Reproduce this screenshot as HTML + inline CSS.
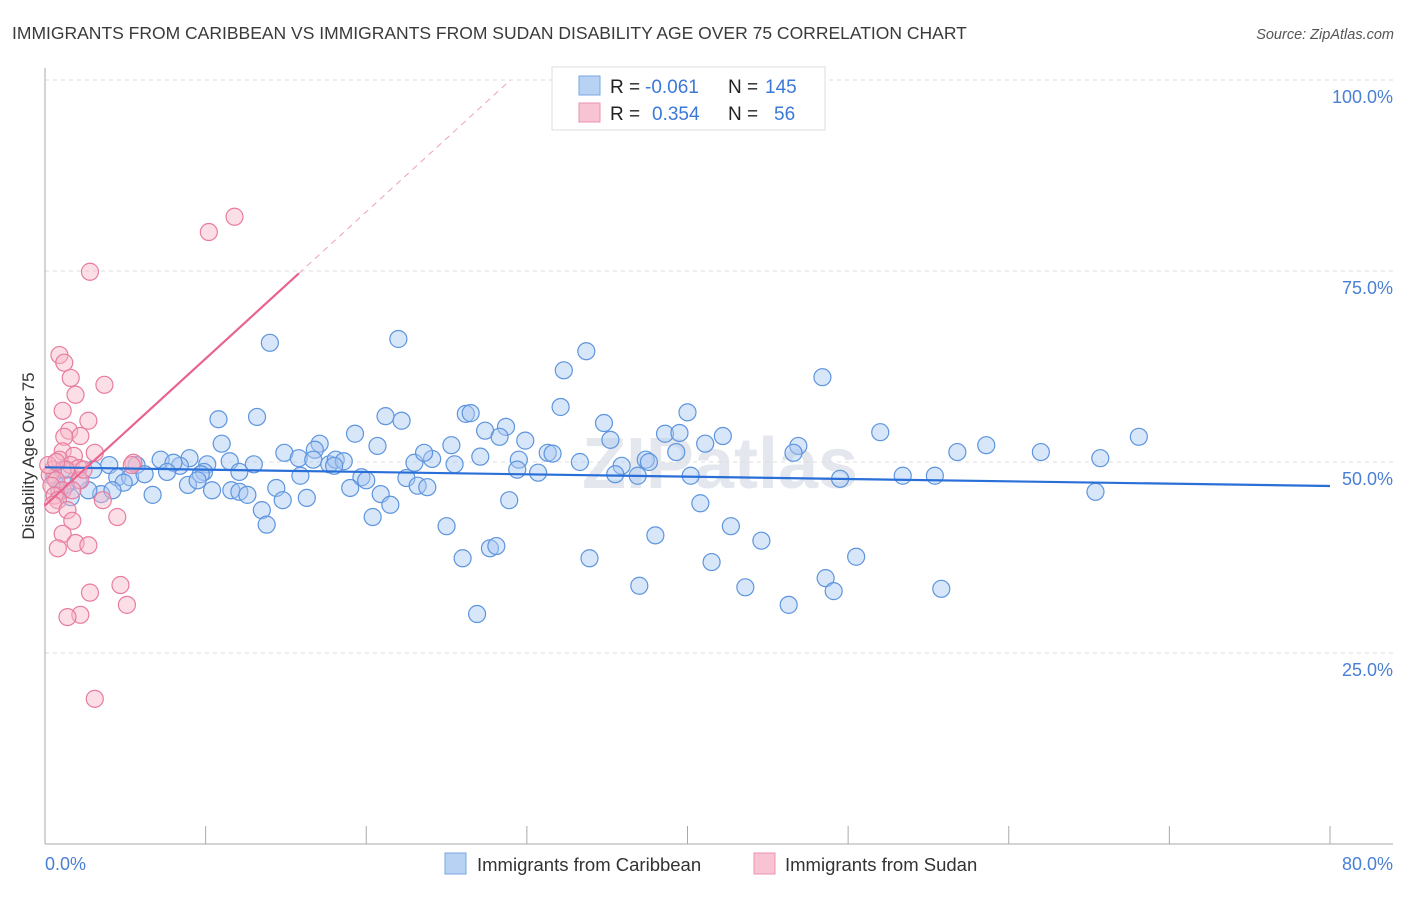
<!DOCTYPE html>
<html><head><meta charset="utf-8">
<style>
body{margin:0;background:#fff;font-family:"Liberation Sans",sans-serif;}
svg text{font-family:"Liberation Sans",sans-serif;}
</style></head>
<body>
<svg id="chart" width="1406" height="892" viewBox="0 0 1406 892"></svg>
<script>
const blueX=[14.0,22.0,33.7,32.3,48.4,10.8,13.2,21.2,22.2,26.2,26.5,32.1,34.8,40.0,28.7,27.4,19.3,28.3,29.9,35.2,38.6,39.5,42.2,41.1,52.0,58.6,68.1,62.0,56.8,65.7,46.9,46.6,11.0,17.1,16.8,14.9,15.8,20.7,25.3,27.1,31.3,31.6,29.5,24.1,23.0,25.5,23.6,37.4,37.6,35.9,33.3,39.3,29.4,30.7,35.5,36.9,40.2,49.5,53.4,55.4,65.4,7.2,9.0,8.4,8.0,10.1,11.5,13.0,5.7,4.0,3.0,4.5,5.3,6.2,7.6,4.9,9.9,9.7,12.1,8.9,10.4,9.5,11.6,12.1,12.6,14.4,15.9,16.7,17.7,18.1,18.6,18.0,19.7,20.0,19.0,20.9,21.5,20.4,14.8,16.3,13.5,13.8,22.5,23.2,23.8,28.9,25.0,26.0,27.7,28.1,26.9,33.9,37.0,38.0,40.8,42.7,41.5,43.6,44.6,46.3,48.6,49.1,50.5,55.8,6.7,3.5,2.7,1.6,0.9,4.2,2.1,1.3,0.6,1.1];
const blueY=[65.6,66.1,64.5,62.0,61.1,55.6,55.9,56.0,55.4,56.3,56.4,57.2,55.1,56.5,54.6,54.1,53.7,53.3,52.8,52.9,53.7,53.8,53.4,52.4,53.9,52.2,53.3,51.3,51.3,50.5,52.1,51.2,52.4,52.4,51.6,51.2,50.5,52.1,52.2,50.7,51.2,51.1,50.3,50.4,49.9,49.7,51.2,50.3,50.0,49.5,50.0,51.3,49.0,48.6,48.4,48.2,48.2,47.8,48.2,48.2,46.1,50.3,50.5,49.5,49.9,49.7,50.1,49.7,49.6,49.6,49.0,48.0,48.0,48.4,48.7,47.3,48.7,48.4,48.7,47.0,46.3,47.6,46.3,46.1,45.7,46.6,48.2,50.3,49.7,50.3,50.1,49.5,48.0,47.6,46.6,45.8,44.4,42.8,45.0,45.3,43.7,41.8,47.9,46.9,46.7,45.0,41.6,37.4,38.7,39.0,30.1,37.4,33.8,40.4,44.6,41.6,36.9,33.6,39.7,31.3,34.8,33.1,37.6,33.4,45.7,45.8,46.3,45.4,46.3,46.3,47.6,47.0,47.9,49.0];
const pinkX=[11.8,10.2,2.8,0.9,1.2,1.6,3.7,1.9,1.1,2.7,1.5,2.2,1.2,3.1,1.1,1.8,5.5,5.4,0.9,1.6,2.1,1.3,0.5,0.3,0.7,0.4,1.1,0.6,2.2,0.2,0.8,3.6,0.5,1.4,1.7,4.5,1.1,1.9,2.7,0.8,4.7,2.8,5.1,2.2,1.4,3.1,1.7,2.4,0.7];
const pinkY=[82.1,80.1,74.9,64.0,63.0,61.0,60.1,58.8,56.7,55.4,54.1,53.4,53.3,51.2,51.4,50.8,49.9,49.6,50.3,49.6,49.2,49.0,49.0,48.3,47.6,46.9,46.3,45.6,47.6,49.6,45.0,45.0,44.4,43.7,42.3,42.8,40.6,39.4,39.1,38.7,33.9,32.9,31.3,30.0,29.7,19.0,46.3,49.0,50.0];
const xTicks=[0,10,20,30,40,50,60,70,80];
const yTicks=[25,50,75,100];

const svg=document.getElementById('chart');
const NS='http://www.w3.org/2000/svg';
const X0=45,X1=1330,Y0=844,Y100=80;
const sx=v=>X0+(X1-X0)*v/80;
const sy=v=>Y0-(Y0-Y100)*v/100;
function mk(tag,attrs,parent){const e=document.createElementNS(NS,tag);for(const k in attrs)e.setAttribute(k,attrs[k]);(parent||svg).appendChild(e);return e;}

// title
let t=mk('text',{x:12,y:39,'font-size':17.5,fill:'#3a3a3a'});t.textContent='IMMIGRANTS FROM CARIBBEAN VS IMMIGRANTS FROM SUDAN DISABILITY AGE OVER 75 CORRELATION CHART';


t=mk('text',{x:1394,y:39,'font-size':14.5,fill:'#555','font-style':'italic','text-anchor':'end'});t.textContent='Source: ZipAtlas.com';



// watermark
t=mk('text',{x:720,y:488,'font-size':72,fill:'#e4e8ee','text-anchor':'middle','font-weight':'bold'});t.textContent='ZIPatlas';



// grid
yTicks.forEach(v=>{
  const l=mk('line',{x1:X0,x2:1393,y1:sy(v),y2:sy(v),stroke:'#dcdcdc','stroke-dasharray':'4,4'});
  
  
  const tx=mk('text',{x:1393,y:sy(v)+23,'font-size':18,fill:'#4a7fd6','text-anchor':'end'});tx.textContent=v.toFixed(1)+'%';
  
  
});
// axes
let a=mk('line',{x1:X0,x2:X0,y1:68,y2:Y0,stroke:'#aaa'});


a=mk('line',{x1:X0,x2:1393,y1:Y0,y2:Y0,stroke:'#aaa'});


xTicks.forEach(v=>{
  const l=mk('line',{x1:sx(v),x2:sx(v),y1:Y0-18,y2:Y0,stroke:'#aaa'});
  
  
});
t=mk('text',{x:45,y:870,'font-size':18,fill:'#4a7fd6'});t.textContent=xTicks[0].toFixed(1)+'%';


t=mk('text',{x:1393,y:870,'font-size':18,fill:'#4a7fd6','text-anchor':'end'});t.textContent=xTicks[xTicks.length-1].toFixed(1)+'%';


t=mk('text',{x:34,y:456,'font-size':17,fill:'#333','text-anchor':'middle',transform:'rotate(-90 34 456)'});t.textContent='Disability Age Over 75';



// points
function dots(xs,ys,fill,stroke,name){
  xs.forEach((v,i)=>{
    const c=mk('circle',{cx:sx(v),cy:sy(ys[i]),r:8.5,fill:fill,'fill-opacity':0.45,stroke:stroke,'stroke-width':1.2});
    
    
  });
}
dots(blueX,blueY,'#a9c8f2','#5d95de','caribbean-point');
dots(pinkX,pinkY,'#f7b6c8','#e87d9e','sudan-point');

function fit(xs,ys){const n=xs.length;let mx=0,my=0;for(let i=0;i<n;i++){mx+=xs[i];my+=ys[i];}mx/=n;my/=n;let sxy=0,sxx=0;for(let i=0;i<n;i++){sxy+=(xs[i]-mx)*(ys[i]-my);sxx+=(xs[i]-mx)**2;}const b=sxy/sxx;return{b:b,a:my-b*mx};}
const fb=fit(blueX,blueY);
let ln=mk('line',{x1:sx(0),y1:sy(fb.a),x2:sx(80),y2:sy(fb.a+fb.b*80),stroke:'#2a6fd8','stroke-width':2.2});


const fp=fit(pinkX,pinkY);
const xEnd=Math.max(...pinkX)+4;
ln=mk('line',{x1:sx(0),y1:sy(fp.a),x2:sx(xEnd),y2:sy(fp.a+fp.b*xEnd),stroke:'#e8648f','stroke-width':2.2});


const xTop=(100-fp.a)/fp.b;
ln=mk('line',{x1:sx(xEnd),y1:sy(fp.a+fp.b*xEnd),x2:sx(xTop),y2:sy(100),stroke:'#eea0b6','stroke-width':1,'stroke-dasharray':'6,5'});



// top legend
const lg=mk('g',{});


mk('rect',{x:552,y:67,width:273,height:63,fill:'#fff',stroke:'#ddd'},lg);
mk('rect',{x:579,y:76,width:21,height:19,fill:'#b8d2f4',stroke:'#7aa6e3'},lg);
mk('rect',{x:579,y:103,width:21,height:19,fill:'#f8c3d2',stroke:'#eb93ad'},lg);
function lt(x,y,s,c,anchor){const e=mk('text',{x:x,y:y,'font-size':19,fill:c,'text-anchor':anchor||'start'},lg);e.textContent=s;return e;}
lt(610,93,'R =','#222');lt(645,93,'-0.061','#3b78d8');lt(728,93,'N =','#222');lt(765,93,'145','#3b78d8');
lt(610,120,'R =','#222');lt(652,120,'0.354','#3b78d8');lt(728,120,'N =','#222');lt(774,120,'56','#3b78d8');

// bottom legend
const bl=mk('g',{});


mk('rect',{x:445,y:853,width:21,height:21,fill:'#b8d2f4',stroke:'#7aa6e3'},bl);
t=mk('text',{x:477,y:871,'font-size':18.5,fill:'#333'},bl);t.textContent='Immigrants from Caribbean';
mk('rect',{x:754,y:853,width:21,height:21,fill:'#f8c3d2',stroke:'#eb93ad'},bl);
t=mk('text',{x:785,y:871,'font-size':18.5,fill:'#333'},bl);t.textContent='Immigrants from Sudan';
</script>
</body></html>
